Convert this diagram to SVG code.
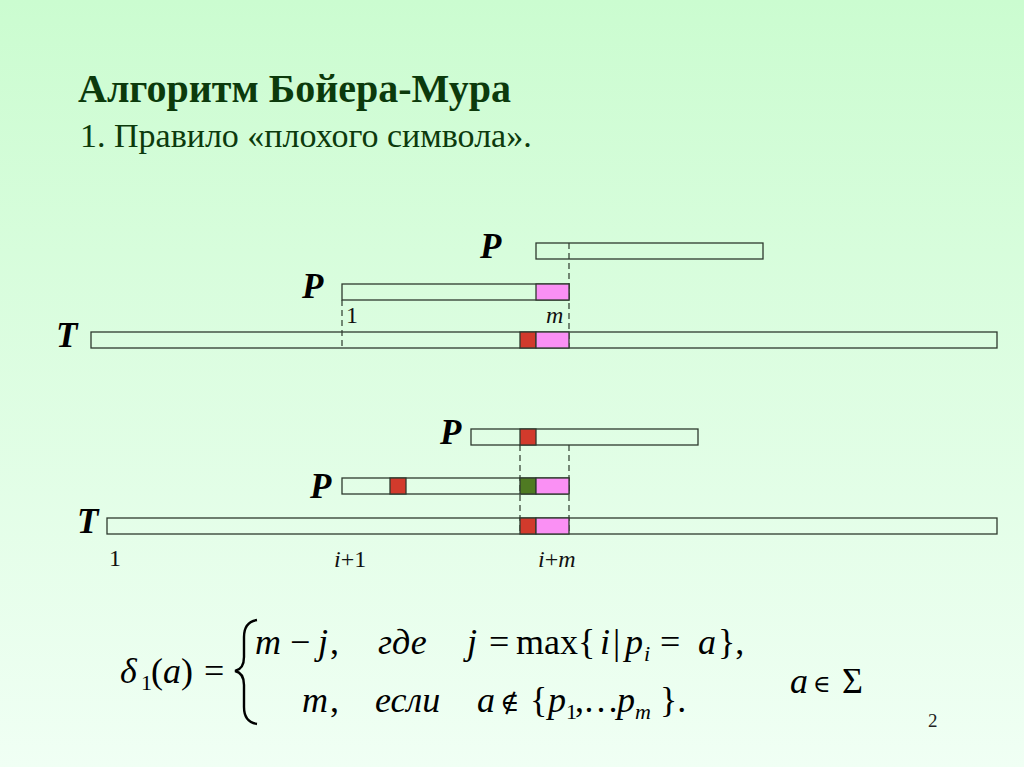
<svg xmlns="http://www.w3.org/2000/svg" width="1024" height="767" viewBox="0 0 1024 767">
<defs>
<linearGradient id="bg" x1="0" y1="0" x2="0" y2="1">
<stop offset="0" stop-color="#cbfcd0"/>
<stop offset="1" stop-color="#f0fff4"/>
</linearGradient>
<style>
.bar{fill:none;stroke:#2e3a2e;stroke-width:1.3}
.red{fill:#d23a2c;stroke:#2e3a2e;stroke-width:1.3}
.pink{fill:#fa90f4;stroke:#2e3a2e;stroke-width:1.3}
.grn{fill:#4f7a22;stroke:#2e3a2e;stroke-width:1.3}
.dash{stroke:#2e3a2e;stroke-width:1.2;stroke-dasharray:6 4;fill:none}
.lbl{font-family:"Liberation Serif",serif;font-weight:bold;font-style:italic;font-size:35px;fill:#000}
.idx{font-family:"Liberation Serif",serif;font-size:24px;fill:#111}
.it{font-style:italic}
.f{font-family:"Liberation Serif",serif;font-size:36px;fill:#000}
.sub{font-size:22px}
</style>
</defs>
<rect x="0" y="0" width="1024" height="767" fill="url(#bg)"/>

<g id="title">
<text x="78" y="102" font-family="Liberation Serif,serif" font-weight="bold" font-size="40" fill="#0c3a0c">Алгоритм Бойера-Мура</text>
<text x="80" y="147" font-family="Liberation Serif,serif" font-size="34" fill="#0c3a0c">1. Правило «плохого символа».</text>
</g>

<g id="connectors">
<line class="dash" x1="569" y1="243" x2="569" y2="348"/>
<line class="dash" x1="342" y1="300" x2="342" y2="348"/>
<line class="dash" x1="520" y1="445" x2="520" y2="534"/>
<line class="dash" x1="569" y1="445" x2="569" y2="534"/>
</g>

<g id="P1a">
<rect class="bar" x="536" y="243" width="227" height="16"/>
<text class="lbl" x="480" y="258">P</text>
</g>
<g id="P1b">
<rect class="bar" x="342" y="284" width="227" height="16"/>
<rect class="pink" x="536" y="284" width="33" height="16"/>
<text class="lbl" x="302" y="298">P</text>
<text class="idx" x="346" y="323">1</text>
<text class="idx it" x="546" y="323">m</text>
</g>
<g id="T1">
<rect class="bar" x="91" y="332" width="906" height="16"/>
<rect class="red" x="520" y="332" width="16" height="16"/>
<rect class="pink" x="536" y="332" width="33" height="16"/>
<text class="lbl" x="56" y="347">T</text>
</g>

<g id="P2a">
<rect class="bar" x="471" y="429" width="227" height="16"/>
<rect class="red" x="520" y="429" width="16" height="16"/>
<text class="lbl" x="440" y="444">P</text>
</g>
<g id="P2b">
<rect class="bar" x="342" y="478" width="227" height="16"/>
<rect class="red" x="390" y="478" width="16" height="16"/>
<rect class="grn" x="520" y="478" width="16" height="16"/>
<rect class="pink" x="536" y="478" width="33" height="16"/>
<text class="lbl" x="310" y="498">P</text>
</g>
<g id="T2">
<rect class="bar" x="107" y="518" width="890" height="16"/>
<rect class="red" x="520" y="518" width="16" height="16"/>
<rect class="pink" x="536" y="518" width="33" height="16"/>
<text class="lbl" x="77" y="533">T</text>
<text class="idx" x="109" y="566">1</text>
<text class="idx" x="334" y="567"><tspan class="it">i</tspan>+1</text>
<text class="idx" x="538" y="567"><tspan class="it">i</tspan>+<tspan class="it">m</tspan></text>
</g>

<g id="formula">
<text class="f it" x="120" y="683">δ</text>
<text class="f sub" x="141" y="690">1</text>
<text class="f" x="151" y="683">(<tspan class="it">a</tspan>)</text>
<text class="f" x="204" y="683">=</text>
<path d="M257,620 Q244,622 244,637 L244,657 Q244,669 235,671 Q244,673 244,685 L244,707 Q244,722 257,724" fill="none" stroke="#000" stroke-width="2.4"/>
<text class="f it" x="255" y="654">m</text>
<text class="f" x="290" y="654">−</text>
<text class="f it" x="318" y="654">j</text>
<text class="f" x="330" y="654">,</text>
<text class="f it" x="378" y="654">где</text>
<text class="f it" x="467" y="654">j</text>
<text class="f" x="489" y="654">=</text>
<text class="f" x="516" y="654">max</text>
<text class="f" x="578" y="654" font-size="34">{</text>
<text class="f it" x="600" y="654">i</text>
<text class="f" x="613" y="654">|</text>
<text class="f it" x="625" y="654">p</text>
<text class="f sub it" x="644" y="661">i</text>
<text class="f" x="660" y="654">=</text>
<text class="f it" x="698" y="654">a</text>
<text class="f" x="718" y="654">},</text>
<text class="f it" x="302" y="712">m</text>
<text class="f" x="330" y="712">,</text>
<text class="f it" x="375" y="712">если</text>
<text class="f it" x="477" y="712">a</text>
<text x="500" y="711" font-family="DejaVu Serif,serif" font-size="26" fill="#000">∉</text>
<text class="f" x="530" y="712">{</text>
<text class="f it" x="548" y="712">p</text>
<text class="f sub" x="566" y="719">1</text>
<text class="f" x="575" y="712">,</text>
<text class="f" x="583" y="712" font-size="26">…</text>
<text class="f it" x="617" y="712">p</text>
<text class="f sub it" x="635" y="719">m</text>
<text class="f" x="660" y="712">}.</text>
<text class="f it" x="790" y="693">a</text>
<text x="813" y="692" font-family="DejaVu Serif,serif" font-size="24" fill="#000">∈</text>
<text class="f" x="842" y="693">Σ</text>
<text x="928" y="727" font-family="Liberation Serif,serif" font-size="19" fill="#222">2</text>
</g>
</svg>
